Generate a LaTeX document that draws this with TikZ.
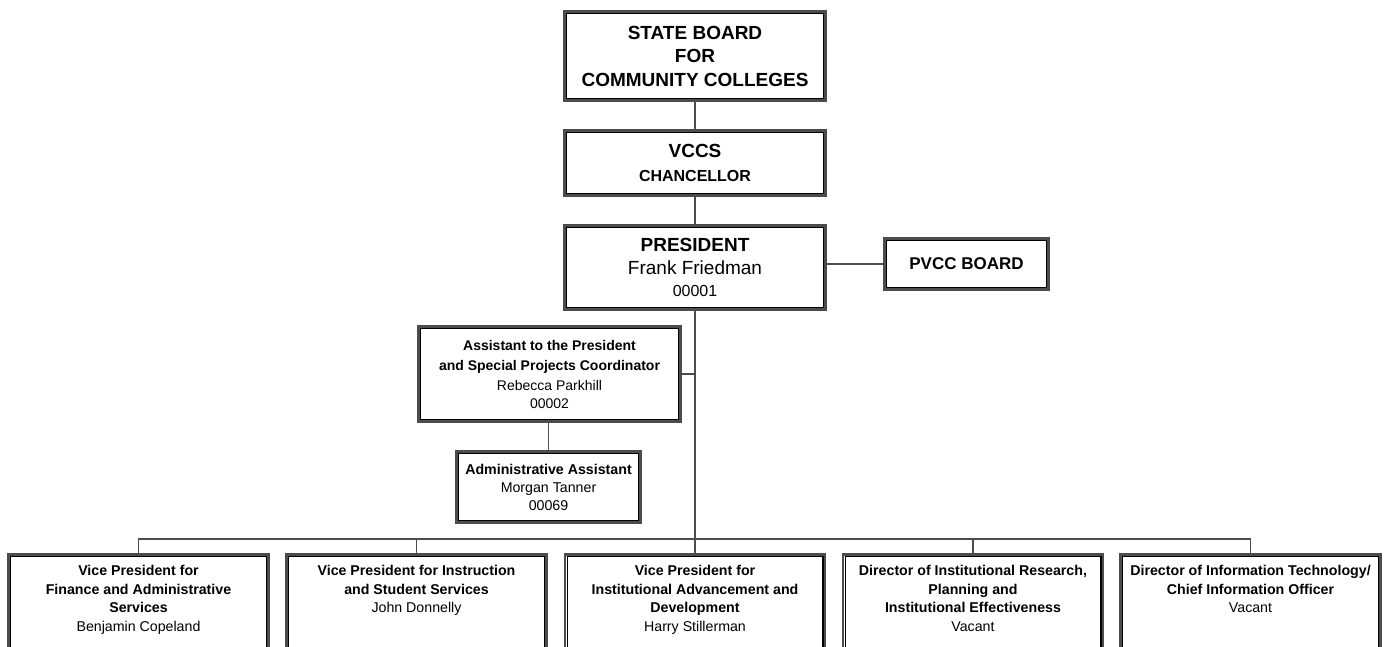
\documentclass[tikz,border=0pt]{standalone}
\usepackage{fontspec}
\setmainfont{Liberation Sans}
\begin{document}
\begin{tikzpicture}[x=1pt,y=-1pt,
  orgbox/.style={draw=black!70, line width=2.4pt, inner sep=0pt, align=center,
    append after command={\pgfextra{\begin{pgfinterruptpath}
      \draw[black, line width=1.2pt] ([shift={(3.3pt,-3.3pt)}]\tikzlastnode.north west) rectangle ([shift={(-3.3pt,3.3pt)}]\tikzlastnode.south east);
      \end{pgfinterruptpath}}}},
  link/.style={draw=black!70, line width=1.3pt},
  vpbox/.style={orgbox, anchor=north, inner xsep=2pt, inner ysep=11pt, font=\fontsize{14.2}{18.5}\selectfont}
]
\useasboundingbox (0,0) rectangle (1387,647);
\clip (0,0) rectangle (1387,647);
\fill[white] (0,0) rectangle (1387,647);

\node[orgbox, minimum width=261, minimum height=89, font=\bfseries\fontsize{19}{23.5}\selectfont] (sb) at (695,56) {STATE BOARD\\FOR\\COMMUNITY COLLEGES};
\node[orgbox, minimum width=261, minimum height=65, font=\bfseries\fontsize{19}{24}\selectfont] (vccs) at (695,163) {VCCS\\\fontsize{16}{24}\selectfont CHANCELLOR};
\node[orgbox, minimum width=261, minimum height=84, font=\fontsize{19}{22.5}\selectfont] (pres) at (695,267.5) {\bfseries PRESIDENT\\Frank Friedman\\\fontsize{16}{22.5}\selectfont 00001};
\node[orgbox, minimum width=164, minimum height=51, font=\bfseries\fontsize{17}{20}\selectfont] (pvcc) at (966.5,264) {PVCC BOARD};
\node[orgbox, minimum width=262, minimum height=95, font=\fontsize{14}{20}\selectfont] (asst) at (549.5,374) {\bfseries Assistant to the President\\\bfseries and Special Projects Coordinator\\Rebecca Parkhill\\[-2pt]00002};
\node[orgbox, minimum width=184, minimum height=71, font=\fontsize{14.2}{18}\selectfont] (admin) at (548.5,487) {\bfseries Administrative Assistant\\Morgan Tanner\\00069};

\node[vpbox] (vp1) at (138.5,553.2) {\parbox[t][90pt][t]{256pt}{\centering\bfseries Vice President for\\Finance and Administrative\\Services\\\mdseries Benjamin Copeland}};
\node[vpbox] (vp2) at (416.5,553.2) {\parbox[t][90pt][t]{256pt}{\centering\bfseries Vice President for Instruction\\and Student Services\\\mdseries John Donnelly}};
\node[vpbox] (vp3) at (695,553.2) {\parbox[t][90pt][t]{256pt}{\centering\bfseries Vice President for\\Institutional Advancement and\\Development\\\mdseries Harry Stillerman}};
\node[vpbox] (vp4) at (973,553.2) {\parbox[t][90pt][t]{256pt}{\centering\bfseries Director of Institutional Research,\\Planning and\\Institutional Effectiveness\\\mdseries Vacant}};
\node[vpbox] (vp5) at (1250.5,553.2) {\parbox[t][90pt][t]{256pt}{\centering\bfseries Director of Information Technology/\\Chief Information Officer\\\mdseries Vacant}};

\coordinate (bus) at (695,539);

\draw[link] (sb.south) -- (vccs.north);
\draw[link] (vccs.south) -- (pres.north);
\draw[link] (pvcc.west) -- (pvcc.west -| pres.east);
\draw[link] (pres.south) -- (vp3.north);
\draw[link] (asst.east) -- (asst.east -| pres.south);
\draw[link] (admin.north) -- (admin.north |- asst.south);
\draw[link] (vp1.north) |- (bus) -| (vp5.north);
\draw[link] (vp2.north) -- (vp2.north |- bus);
\draw[link] (vp4.north) -- (vp4.north |- bus);
\end{tikzpicture}
\end{document}
